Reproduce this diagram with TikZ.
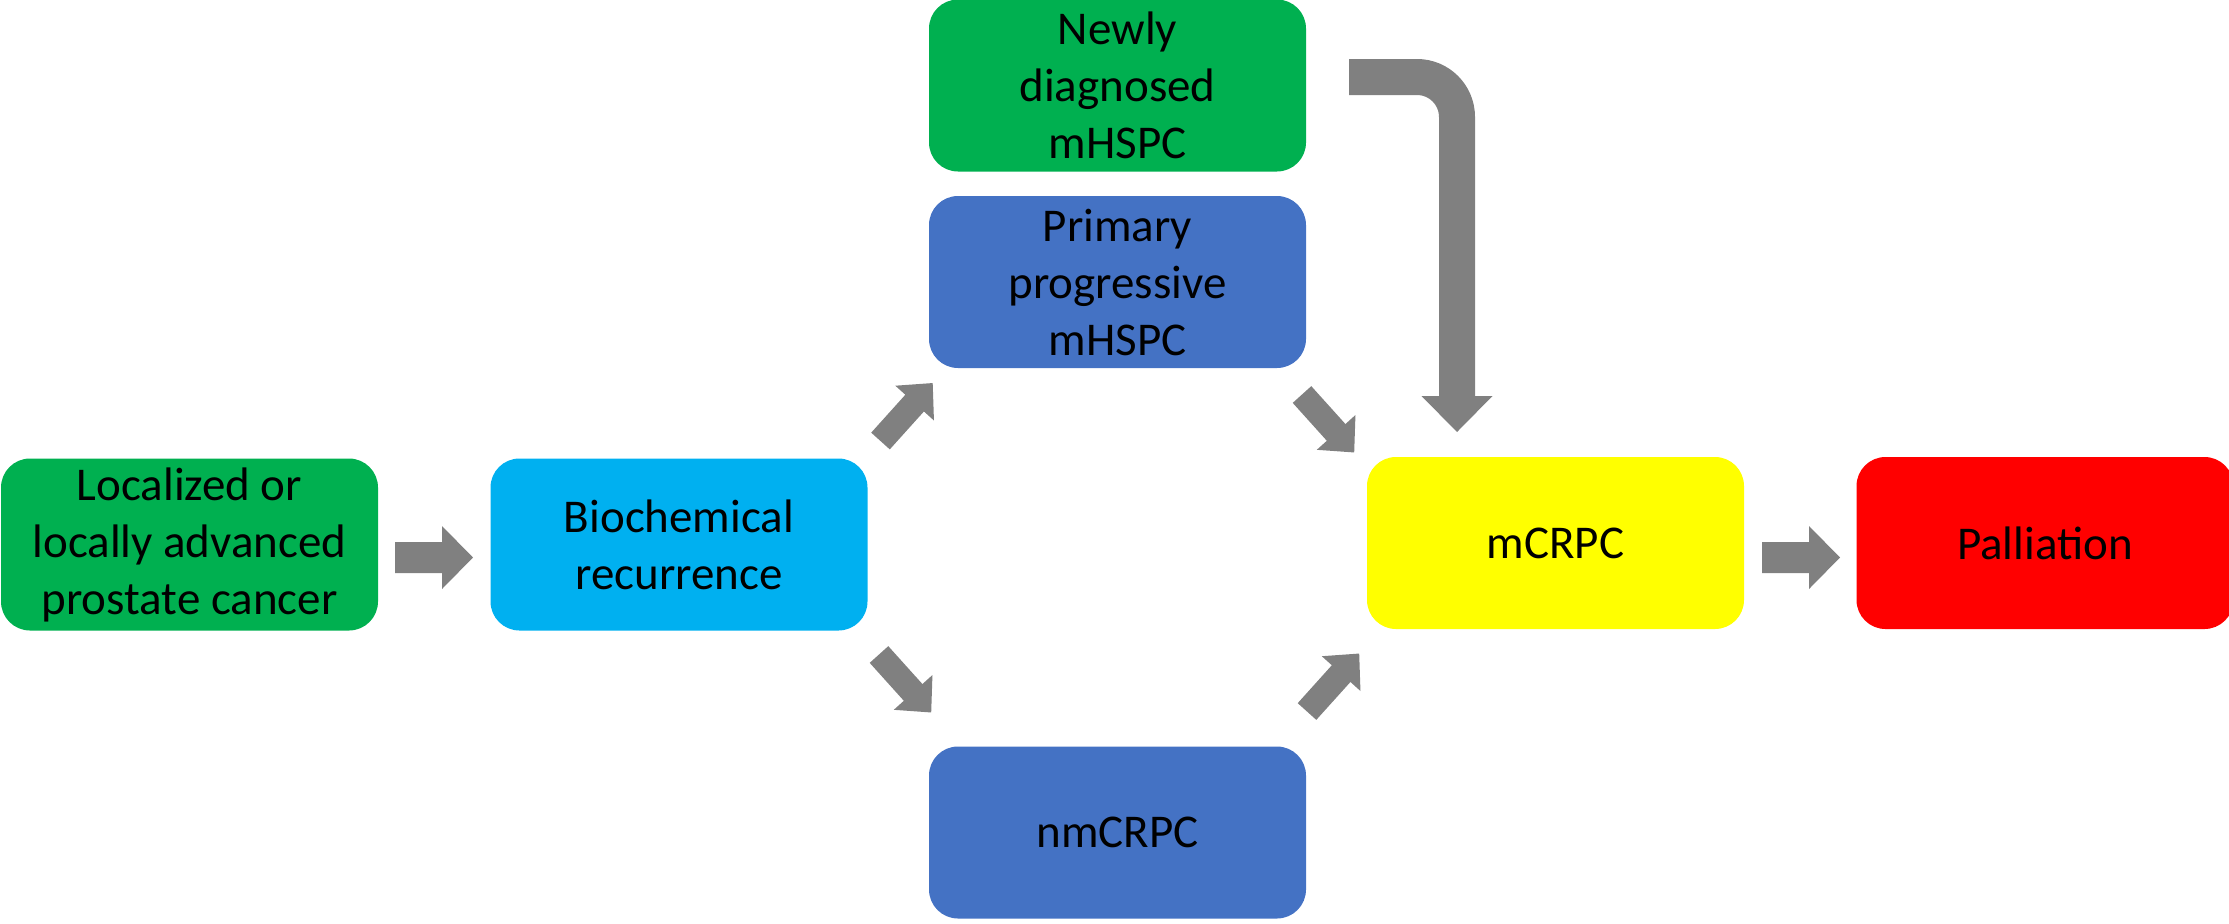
\documentclass[tikz,border=0pt]{standalone}
\usepackage{fontspec}
\setmainfont{Carlito}
\definecolor{boxgreen}{HTML}{00B050}
\definecolor{boxcyan}{HTML}{00B0F0}
\definecolor{boxblue}{HTML}{4472C4}
\definecolor{boxyellow}{HTML}{FFFF00}
\definecolor{boxred}{HTML}{FF0000}
\definecolor{arrowgrey}{HTML}{808080}
\tikzset{
  stagebox/.style={rounded corners=14.5pt, minimum width=188.5pt, minimum height=86pt,
    inner sep=0pt, align=center, text=black,
    font=\fontsize{23.5pt}{28.5pt}\selectfont},
  hblock/.pic={\fill[arrowgrey] (0,-15.5) -- (47,-15.5) -- (47,-31.5) -- (78,0)
    -- (47,31.5) -- (47,15.5) -- (0,15.5) -- cycle;},
  dblock/.pic={\fill[arrowgrey] (0,-12.5) -- (51,-12.5) -- (51,-26) -- (78,0)
    -- (51,26) -- (51,12.5) -- (0,12.5) -- cycle;},
}
\begin{document}
\begin{tikzpicture}[x=0.5pt,y=-0.5pt]
\useasboundingbox (0,0) rectangle (2229,923);
\node[stagebox, fill=boxgreen] (loc) at (189.5,544.5) {Localized or\\locally advanced\\prostate cancer};
\node[stagebox, fill=boxcyan] (bio) at (679,544.5) {Biochemical\\recurrence};
\node[stagebox, fill=boxgreen] (newly) at (1117.5,85.5) {Newly\\diagnosed\\mHSPC};
\node[stagebox, fill=boxblue] (prim) at (1117.5,282) {Primary\\progressive\\mHSPC};
\node[stagebox, fill=boxblue] (nm) at (1117.5,832.5) {nmCRPC};
\node[stagebox, fill=boxyellow] (mc) at (1555.5,543) {mCRPC};
\node[stagebox, fill=boxred] (pal) at (2045,543) {Palliation};

% horizontal block arrows
\coordinate (a1) at (395,557.5);
\coordinate (a2) at (1762,557.5);
\pic at (a1) {hblock};
\pic at (a2) {hblock};

% diagonal block arrows
\coordinate (d1) at (880.5,441);
\coordinate (d2) at (879,654.5);
\coordinate (d3) at (1302,394.5);
\coordinate (d4) at (1307,711.5);
\pic[rotate=48] at (d1) {dblock};
\pic[rotate=-48] at (d2) {dblock};
\pic[rotate=-48] at (d3) {dblock};
\pic[rotate=48] at (d4) {dblock};

% bent arrow from newly diagnosed to mCRPC
\coordinate (b0) at (1349,77);
\coordinate (b1) at (1457,77);
\coordinate (b2) at (1457,397);
\draw[arrowgrey, line width=18pt, rounded corners=20pt] (b0) -- (b1) -- (b2);
\fill[arrowgrey] (1421.5,396) -- (1492.5,396) -- (1457,432) -- cycle;
\end{tikzpicture}
\end{document}
